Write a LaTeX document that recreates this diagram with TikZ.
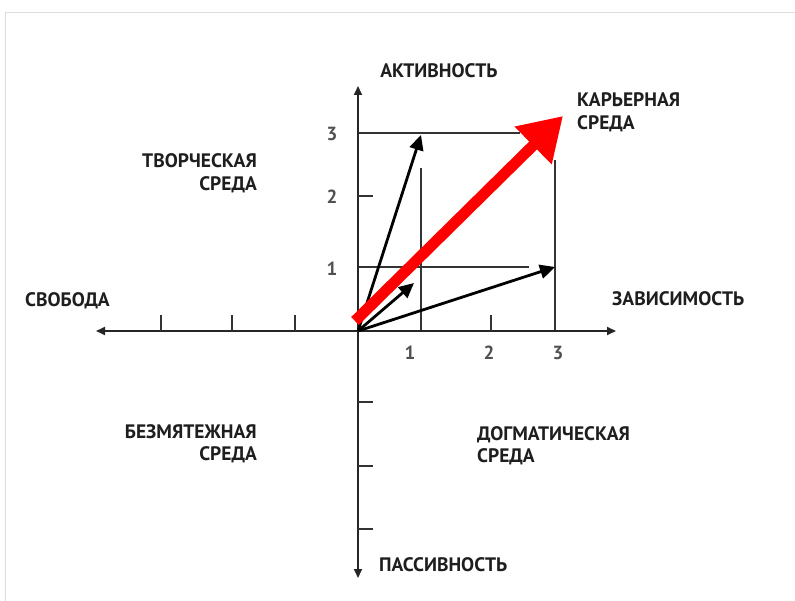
\documentclass[tikz,border=0pt]{standalone}
\usepackage{fontspec}
\setmainfont{PT Sans}
\usetikzlibrary{arrows.meta}
\definecolor{txt}{HTML}{1E1E1E}
\definecolor{numc}{HTML}{505050}
\definecolor{frame}{HTML}{DDDDDD}
\definecolor{redarrow}{HTML}{FF0000}
\tikzset{
  axis/.style={line width=2pt, black!85, -{Triangle[length=9pt,width=8pt]}},
  grid/.style={line width=1.5pt, black!80},
  tickm/.style={line width=1.8pt, black!80},
  vec/.style={line width=2.8pt, black, -{Triangle[length=15pt,width=14pt]}},
  bigvec/.style={line width=11pt, redarrow, -{Triangle[length=42pt,width=50pt]}},
  lbl/.style={font=\bfseries\fontsize{19.5}{23}\selectfont, text=txt, inner sep=0pt},
  num/.style={font=\bfseries\fontsize{19}{22}\selectfont, text=numc, inner sep=0pt}
}
\begin{document}
\begin{tikzpicture}[x=1pt,y=-1pt]
\useasboundingbox (0,0) rectangle (795,601);
\fill[white] (0,0) rectangle (795,601);
\draw[frame, line width=1pt] (5,601) -- (5,12.5) -- (795,12.5);

\coordinate (O) at (358,331);
\coordinate (L) at (96,331);
\coordinate (R) at (616,331);
\coordinate (T) at (358,86);
\coordinate (B) at (358,578);

% grid lines
\coordinate (g3a) at (358,133);
\coordinate (g3b) at (520,133);
\coordinate (g1a) at (358,267);
\coordinate (g1b) at (529,267);
\coordinate (v1a) at (421,168);
\coordinate (v1b) at (421,331);
\coordinate (v3a) at (555,160);
\coordinate (v3b) at (555,331);
\draw[grid] (g3a) -- (g3b);
\draw[grid] (g1a) -- (g1b);
\draw[grid] (v1a) -- (v1b);
\draw[grid] (v3a) -- (v3b);

% axes
\draw[axis] (O) -- (L);
\draw[axis] (O) -- (R);
\draw[axis] (O) -- (T);
\draw[axis] (O) -- (B);

% ticks
\foreach \x in {161,232,295,491} \draw[tickm] (\x,331) -- (\x,315);
\foreach \y in {196,402,466,529} \draw[tickm] (358,\y) -- (373,\y);

% black vectors
\coordinate (p13) at (421,135);
\coordinate (p11) at (414,283);
\coordinate (p31) at (555,267);
\draw[vec] (O) -- (p13);
\draw[vec] (O) -- (p11);
\draw[vec] (O) -- (p31);

% red vector
\coordinate (rs) at (355,321);
\coordinate (re) at (563,116);
\draw[bigvec] (rs) -- (re);

% labels
\node[lbl, anchor=base] (act) at (439,78) {АКТИВНОСТЬ};
\node[lbl, anchor=base west] (pas) at (379,571) {ПАССИВНОСТЬ};
\node[lbl, anchor=base west] (svo) at (25,307) {СВОБОДА};
\node[lbl, anchor=base west] (zav) at (612,306) {ЗАВИСИМОСТЬ};
\node[lbl, anchor=base west] (kar1) at (577,107) {КАРЬЕРНАЯ};
\node[lbl, anchor=base west] (kar2) at (577,130) {СРЕДА};
\node[lbl, anchor=base east] (tvo1) at (257,168) {ТВОРЧЕСКАЯ};
\node[lbl, anchor=base east] (tvo2) at (257,191) {СРЕДА};
\node[lbl, anchor=base east] (bez1) at (257,438) {БЕЗМЯТЕЖНАЯ};
\node[lbl, anchor=base east] (bez2) at (257,460) {СРЕДА};
\node[lbl, anchor=base west] (dog1) at (477,440) {ДОГМАТИЧЕСКАЯ};
\node[lbl, anchor=base west] (dog2) at (477,462) {СРЕДА};

\node[num] (y3) at (332,134) {3};
\node[num] (y2) at (332,197) {2};
\node[num] (y1) at (332,269) {1};
\node[num] (x1) at (410,353) {1};
\node[num] (x2) at (489,353) {2};
\node[num] (x3) at (558,353) {3};
\end{tikzpicture}
\end{document}
